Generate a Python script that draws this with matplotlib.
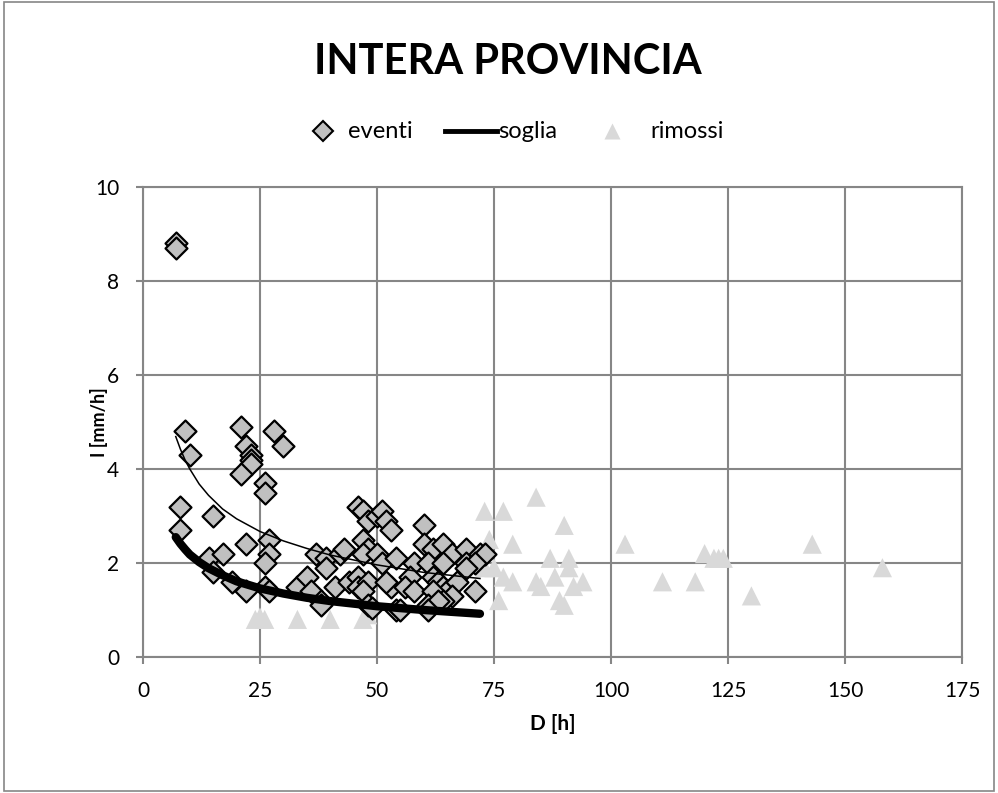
import numpy as np
import matplotlib
matplotlib.use('Agg')
import matplotlib.pyplot as plt
from matplotlib.lines import Line2D
from matplotlib.patches import Rectangle

plt.rcParams['font.family'] = ['Lato', 'DejaVu Sans']

# eventi (D [h], I [mm/h])
eventi_d = [7, 7, 9, 10, 8, 8, 15, 14, 17, 15, 19, 22,
            21, 22, 23, 23, 23, 21, 22, 28, 30, 26, 26,
            27, 27, 26, 26, 27, 33, 35, 36, 38, 38,
            37, 39, 39, 41, 42, 43, 44, 46, 46,
            46, 47, 48, 47, 48, 47, 50, 51, 52, 53,
            50, 51, 54, 58, 57, 53, 56, 48, 47, 52,
            60, 60, 62, 64, 66, 69, 72, 73,
            61, 64, 69, 71, 69,
            62, 63, 64, 65, 67, 71, 58, 62, 66, 64, 61, 63,
            54, 55, 61, 48, 49]
eventi_i = [8.8, 8.7, 4.8, 4.3, 3.2, 2.7, 3.0, 2.1, 2.2, 1.8, 1.6, 1.4,
            4.9, 4.5, 4.3, 4.2, 4.1, 3.9, 2.4, 4.8, 4.5, 3.7, 3.5,
            2.5, 2.2, 2.0, 1.5, 1.4, 1.5, 1.7, 1.4, 1.2, 1.1,
            2.2, 2.1, 1.9, 1.5, 2.2, 2.3, 1.6, 1.7, 1.5,
            3.2, 3.1, 2.9, 2.5, 2.3, 2.2, 3.0, 3.1, 2.9, 2.7,
            2.2, 2.0, 2.1, 2.0, 1.7, 1.5, 1.5, 1.6, 1.4, 1.6,
            2.8, 2.4, 2.3, 2.4, 2.2, 2.3, 2.2, 2.2,
            2.0, 2.0, 2.0, 2.0, 1.9,
            1.7, 1.6, 1.5, 1.4, 1.6, 1.4, 1.4, 1.4, 1.3, 1.2, 1.1, 1.2,
            1.0, 1.0, 1.0, 1.1, 1.05]

# rimossi
rimossi_d = [24, 25, 26, 33, 40, 47, 48,
             73, 77, 84, 74, 79, 90, 87, 91,
             73, 75, 77, 79, 84, 85, 88, 91, 92, 94, 76, 89, 90,
             103, 111, 118, 120, 122, 123, 124, 130, 143, 158]
rimossi_i = [0.8, 0.85, 0.8, 0.8, 0.8, 0.8, 0.9,
             3.1, 3.1, 3.4, 2.5, 2.4, 2.8, 2.1, 2.1,
             1.9, 1.9, 1.7, 1.6, 1.6, 1.5, 1.7, 1.9, 1.5, 1.6, 1.2, 1.2, 1.1,
             2.4, 1.6, 1.6, 2.2, 2.1, 2.1, 2.1, 1.3, 2.4, 1.9]

# curves
curve_d = [7, 8, 9, 10, 12, 14, 17, 20, 25, 30, 35, 40, 50, 60, 72]
soglia_i = [2.55, 2.41, 2.29, 2.18, 2.02, 1.89, 1.74, 1.61, 1.46, 1.35,
            1.26, 1.19, 1.08, 1.00, 0.92]
trend_i = [4.69, 4.42, 4.19, 4.00, 3.68, 3.44, 3.15, 2.94, 2.67, 2.47,
           2.31, 2.17, 1.96, 1.80, 1.67]

x_ticks = [0, 25, 50, 75, 100, 125, 150, 175]
y_ticks = [0, 2, 4, 6, 8, 10]

grid_col = '#868686'
W, H = 998, 793

fig = plt.figure(figsize=(W / 100, H / 100), dpi=100)
fig.patches.append(Rectangle((0.004, 0.003), 0.992, 0.994, transform=fig.transFigure,
                             fill=False, edgecolor='#868686', lw=1.2))
ax = fig.add_axes([143 / W, 1 - 657 / H, (962 - 143) / W, (657 - 187) / H])

ax.scatter(rimossi_d, rimossi_i, marker='^', s=190, color='#d9d9d9',
           edgecolors='none', zorder=2)
ax.scatter(eventi_d, eventi_i, marker='D', s=125, color='#c0c0c0',
           edgecolors='black', linewidths=1.6, zorder=3)
ax.plot(curve_d, soglia_i, color='black', lw=6, solid_capstyle='round', zorder=4)
ax.plot(curve_d, trend_i, color='black', lw=1.1, zorder=4)

ax.set_xlim(0, 175)
ax.set_ylim(0, 10)
ax.set_xticks(x_ticks)
ax.set_yticks(y_ticks)
ax.grid(True, color=grid_col, lw=1.5)
ax.set_axisbelow(True)
for s in ax.spines.values():
    s.set_color(grid_col)
    s.set_linewidth(1.5)
ax.tick_params(axis='both', colors=grid_col, length=5, width=1.5, labelsize=15,
               labelcolor='black')
ax.tick_params(axis='x', pad=12)
ax.tick_params(axis='y', pad=12)

ax.set_xlabel('D [h]', fontsize=15, fontweight='bold')
ax.set_ylabel('I [mm/h]', fontsize=13, fontweight='bold')
ax.xaxis.set_label_coords(0.5, -(714 - 657) / 470)
ax.yaxis.set_label_coords(-(143 - 108) / 819, 0.5)

fig.text(508 / W, 1 - 62 / H, 'INTERA PROVINCIA', ha='center', va='center',
         fontsize=30, fontweight='bold')

# legend drawn by hand to keep Excel's spacing
ly = 1 - 131 / H
fig.add_artist(Line2D([323 / W], [ly], ls='none', marker='D', ms=10, mfc='#c0c0c0',
                      mec='black', mew=1.5, transform=fig.transFigure))
fig.add_artist(Line2D([445 / W, 497 / W], [ly, ly], color='black', lw=3.5,
                      transform=fig.transFigure))
fig.add_artist(Line2D([612 / W], [ly], ls='none', marker='^', ms=12, mfc='#d9d9d9',
                      mec='none', transform=fig.transFigure))
for x, lab in [(348, 'eventi'), (498, 'soglia'), (650, 'rimossi')]:
    fig.text(x / W, ly, lab, ha='left', va='center', fontsize=17)

fig.savefig('out.png', dpi=100)
